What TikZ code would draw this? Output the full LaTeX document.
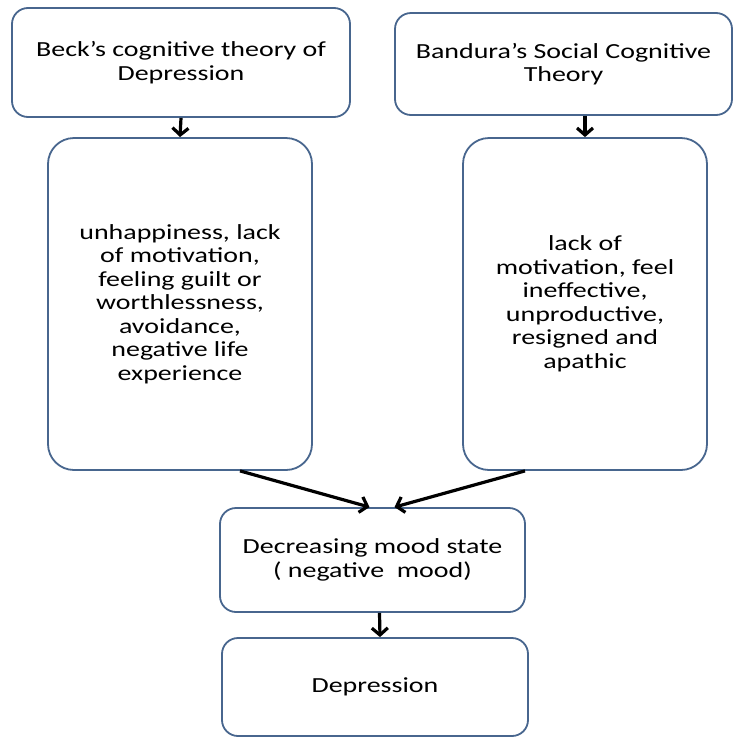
\documentclass[tikz,border=0pt]{standalone}
\usepackage{fontspec}
\setmainfont{Carlito}[FakeStretch=1.3]
\usepackage{tikz}
\usetikzlibrary{arrows.meta}

\definecolor{boxline}{RGB}{72,102,142}

\begin{document}
\begin{tikzpicture}[x=1pt,y=-1pt,->,>={Straight Barb[length=7pt,width=16pt]},line width=3.2pt,
  font=\fontsize{21.5}{23.5}\selectfont]
  \tikzstyle{box}=[draw=boxline,line width=1.8pt,rounded corners=16pt,align=center,fill=white,inner sep=0pt]
  \tikzstyle{tallbox}=[box,rounded corners=26pt]

  \useasboundingbox (0,0) rectangle (733,737);

  \node[box, minimum width=338pt, minimum height=109pt] (beck)    at (181,62.5)  {Beck's cognitive theory of\\ Depression};
  \node[box, minimum width=337pt, minimum height=102pt] (bandura) at (563.5,64)  {Bandura's Social Cognitive\\ Theory};
  \node[tallbox, minimum width=264pt, minimum height=332pt] (becksym) at (180,304) {unhappiness, lack\\ of motivation,\\ feeling guilt or\\ worthlessness,\\ avoidance,\\ negative life\\ experience};
  \node[tallbox, minimum width=244pt, minimum height=332pt] (bandsym) at (585,304) {lack of\\ motivation, feel\\ ineffective,\\ unproductive,\\ resigned and\\ apathic};
  \node[box, minimum width=305pt, minimum height=104pt] (mood) at (372.5,560) {Decreasing mood state\\ ( negative~~mood)};
  \node[box, minimum width=306pt, minimum height=98pt]  (depr) at (375,687)  {Depression};

  \draw (beck.south) -- (becksym.north);
  \draw (bandsym.north |- bandura.south) -- (bandsym.north);
  \draw ([xshift=60pt]becksym.south) -- ([xshift=-3pt]mood.north);
  \draw ([xshift=-60pt]bandsym.south) -- ([xshift=22pt]mood.north);
  \draw ([xshift=7pt]mood.south) -- ([xshift=5pt]depr.north);
\end{tikzpicture}
\end{document}
